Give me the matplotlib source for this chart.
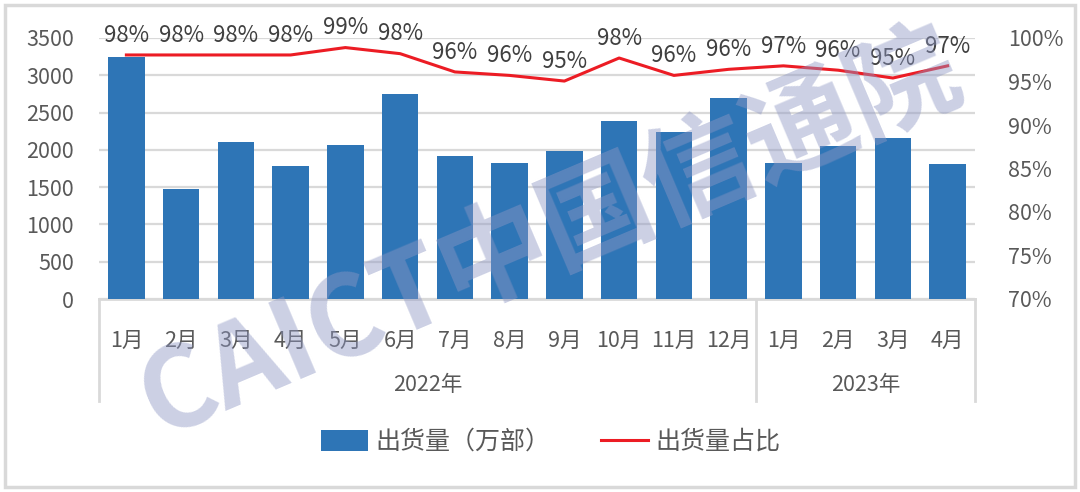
import matplotlib
matplotlib.use("Agg")
import matplotlib.pyplot as plt
import matplotlib.transforms as mtransforms
from matplotlib.patches import Rectangle, Patch
from matplotlib.lines import Line2D
from matplotlib.ticker import FuncFormatter, MultipleLocator

plt.rcParams['font.family'] = ['Noto Sans CJK SC', 'DejaVu Sans']

# data
months = ['1月', '2月', '3月', '4月', '5月', '6月', '7月', '8月', '9月', '10月', '11月', '12月',
          '1月', '2月', '3月', '4月']
years = ['2022年', '2023年']
year_counts = [12, 4]
shipments = [3245, 1475, 2105, 1785, 2060, 2750, 1920, 1820, 1985, 2385, 2235, 2690,
             1830, 2050, 2160, 1805]
share = [98.05, 98.05, 98.05, 98.05, 98.9, 98.2, 96.1, 95.7, 95.05, 97.7, 95.7, 96.4,
         96.8, 96.3, 95.4, 96.8]
share_labels = ['98%', '98%', '98%', '98%', '99%', '98%', '96%', '96%', '95%', '98%', '96%', '96%',
                '97%', '96%', '95%', '97%']

TXT = '#595959'
GRID = '#d9d9d9'

fig = plt.figure(figsize=(10.8, 4.92), dpi=100)
ax = fig.add_axes([99 / 1080, 1 - 299 / 492, 876 / 1080, 261 / 492])
ax2 = ax.twinx()

x = list(range(len(months)))
ax.bar(x, shipments, width=0.67, color='#2e75b6', zorder=2)
ax.set_xlim(-0.5, len(months) - 0.5)
ax.set_ylim(0, 3500)
ax.yaxis.set_major_locator(MultipleLocator(500))
ax.grid(axis='y', color=GRID, lw=1.6, zorder=0)
ax.set_axisbelow(True)
for s in ax.spines.values():
    s.set_visible(False)
for s in ax2.spines.values():
    s.set_visible(False)
ax.tick_params(axis='y', length=0, pad=18, labelsize=15.5, labelcolor=TXT)
ax.set_xticks(x)
ax.set_xticklabels(months)
ax.tick_params(axis='x', length=0, pad=22, labelsize=15.5, labelcolor=TXT)

ax2.plot(x, share, color='#ec1c24', lw=2.2, zorder=3)
ax2.set_ylim(70, 100)
ax2.yaxis.set_major_locator(MultipleLocator(5))
ax2.yaxis.set_major_formatter(FuncFormatter(lambda v, p: f'{v:.0f}%'))
ax2.tick_params(axis='y', length=0, pad=24, labelsize=15.5, labelcolor=TXT)
for xi, yi, lab in zip(x, share, share_labels):
    ax2.annotate(lab, (xi, yi), xytext=(0, 6), textcoords='offset points',
                 ha='center', va='bottom', fontsize=16, color='#404040')

# category table below the axis
trans = mtransforms.blended_transform_factory(ax.transData, ax.transAxes)
bottom = -102 / 261
ax.plot([-0.5, len(months) - 0.5], [0, 0], transform=trans, color=GRID, lw=2, clip_on=False, zorder=1)
edges = [-0.5]
for c in year_counts:
    edges.append(edges[-1] + c)
for e in edges:
    ax.plot([e, e], [0, bottom], transform=trans, color=GRID, lw=2, clip_on=False)
for i, y in enumerate(years):
    ax.text((edges[i] + edges[i + 1]) / 2, -86 / 261, y, transform=trans,
            ha='center', va='center', fontsize=15.5, color=TXT)

# watermark
fig.text(0.51, 0.52, 'CAICT中国信通院', rotation=23, ha='center', va='center',
         fontsize=80, fontweight='bold', style='italic', color='#8e97c4', alpha=0.45, zorder=5)

# legend
handles = [Patch(facecolor='#2e75b6'), Line2D([0], [0], color='#ec1c24', lw=2.2)]
fig.legend(handles, ['出货量（万部）', '出货量占比'], loc='center', bbox_to_anchor=(0.51, 1 - 442 / 492),
           ncol=2, frameon=False, fontsize=18, labelcolor=TXT, handlelength=1.9,
           handleheight=0.9, columnspacing=2.0, handletextpad=0.3)

fig.patches.append(Rectangle((5 / 1080, 5 / 492), 1070 / 1080, 482 / 492, transform=fig.transFigure,
                             fill=False, edgecolor=GRID, lw=2.5))

fig.savefig('out.png', dpi=100)
